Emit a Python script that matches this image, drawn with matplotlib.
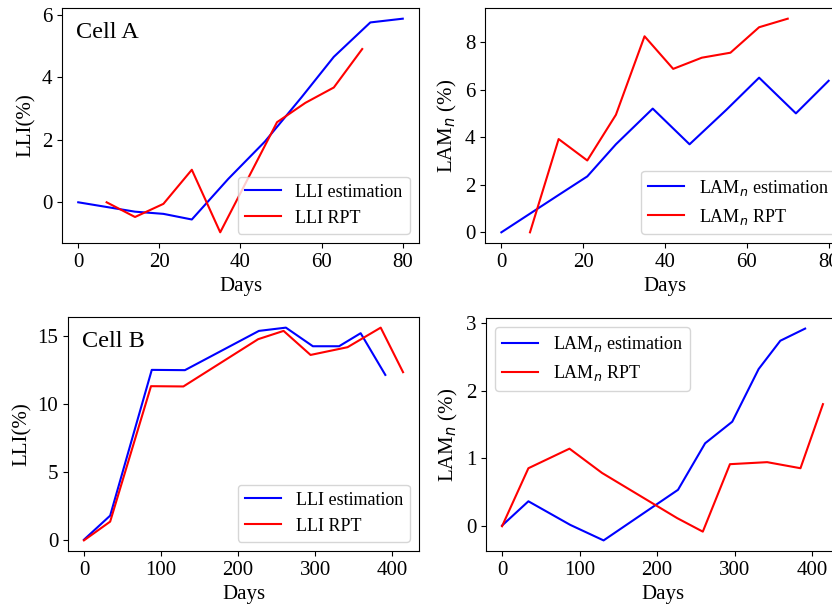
import matplotlib
matplotlib.use('Agg')
import matplotlib.pyplot as plt

plt.rcParams['font.family'] = ['Liberation Serif', 'DejaVu Serif']
plt.rcParams['mathtext.fontset'] = 'dejavusans'

# Cell A
days_est_a = [0, 14, 21, 28, 37, 46, 55, 63, 72, 80]
lli_est_a = [0.0, -0.30, -0.37, -0.55, 0.75, 1.94, 3.35, 4.65, 5.75, 5.87]
lam_est_a = [0.0, 1.57, 2.35, 3.70, 5.20, 3.70, 5.15, 6.50, 5.00, 6.37]

days_rpt_lli_a = [7, 14, 21, 28, 35, 49, 56, 63, 70]
lli_rpt_a = [0.0, -0.47, -0.05, 1.04, -0.96, 2.56, 3.18, 3.67, 4.90]
days_rpt_lam_a = [7, 14, 21, 28, 35, 42, 49, 56, 63, 70]
lam_rpt_a = [0.0, 3.92, 3.02, 4.94, 8.24, 6.87, 7.34, 7.55, 8.62, 8.98]

# Cell B
days_est_b = [0, 34, 88, 131, 227, 262, 297, 331, 359, 391]
lli_est_b = [0.0, 1.77, 12.50, 12.48, 15.37, 15.61, 14.24, 14.24, 15.20, 12.13]
lam_est_b = [0.0, 0.36, 0.01, -0.22, 0.53, 1.22, 1.54, 2.32, 2.74, 2.92]

days_rpt_b = [0, 34, 87, 129, 226, 259, 294, 342, 385, 414]
lli_rpt_b = [-0.05, 1.33, 11.30, 11.28, 14.76, 15.37, 13.60, 14.17, 15.61, 12.33]
lam_rpt_b = [-0.01, 0.85, 1.14, 0.78, 0.11, -0.09, 0.91, 0.94, 0.85, 1.80]

W, H = 832, 610
fig = plt.figure(figsize=(W / 100, H / 100), dpi=100)


def add_ax(left, right, top, bottom):
    # pixel box -> figure fraction
    return fig.add_axes([left / W, (H - bottom) / H, (right - left) / W, (bottom - top) / H])


ax1 = add_ax(62, 419, 8, 243)
ax2 = add_ax(485, 845, 8, 243)
ax3 = add_ax(68, 419, 317, 551)
ax4 = add_ax(486, 839, 318, 551)

FS = 15
LFS = 13

ax1.plot(days_est_a, lli_est_a, 'b', label='LLI estimation')
ax1.plot(days_rpt_lli_a, lli_rpt_a, 'r', label='LLI RPT')
ax1.set_ylabel('LLI(%)', fontsize=FS)
ax1.text(0.04, 0.94, 'Cell A', transform=ax1.transAxes, fontsize=17.5, va='top')
ax1.legend(loc='lower right', fontsize=LFS)

ax2.plot(days_est_a, lam_est_a, 'b', label='LAM$_n$ estimation')
ax2.plot(days_rpt_lam_a, lam_rpt_a, 'r', label='LAM$_n$ RPT')
ax2.set_ylabel('LAM$_n$ (%)', fontsize=FS)
ax2.legend(loc='lower right', fontsize=LFS)

ax3.plot(days_est_b, lli_est_b, 'b', label='LLI estimation')
ax3.plot(days_rpt_b, lli_rpt_b, 'r', label='LLI RPT')
ax3.set_ylabel('LLI(%)', fontsize=FS)
ax3.text(0.04, 0.94, 'Cell B', transform=ax3.transAxes, fontsize=17.5, va='top')
ax3.legend(loc='lower right', fontsize=LFS)

ax4.plot(days_est_b, lam_est_b, 'b', label='LAM$_n$ estimation')
ax4.plot(days_rpt_b, lam_rpt_b, 'r', label='LAM$_n$ RPT')
ax4.set_ylabel('LAM$_n$ (%)', fontsize=FS)
ax4.legend(loc='upper left', fontsize=LFS)

ax1.set_xticks([0, 20, 40, 60, 80])
ax2.set_xticks([0, 20, 40, 60, 80])
ax1.set_yticks([0, 2, 4, 6])
ax2.set_yticks([0, 2, 4, 6, 8])
ax3.set_yticks([0, 5, 10, 15])
ax4.set_yticks([0, 1, 2, 3])
for ax in (ax1, ax2, ax3, ax4):
    ax.set_xlabel('Days', fontsize=FS)
    ax.tick_params(labelsize=FS)

fig.savefig('out.png', dpi=100)
